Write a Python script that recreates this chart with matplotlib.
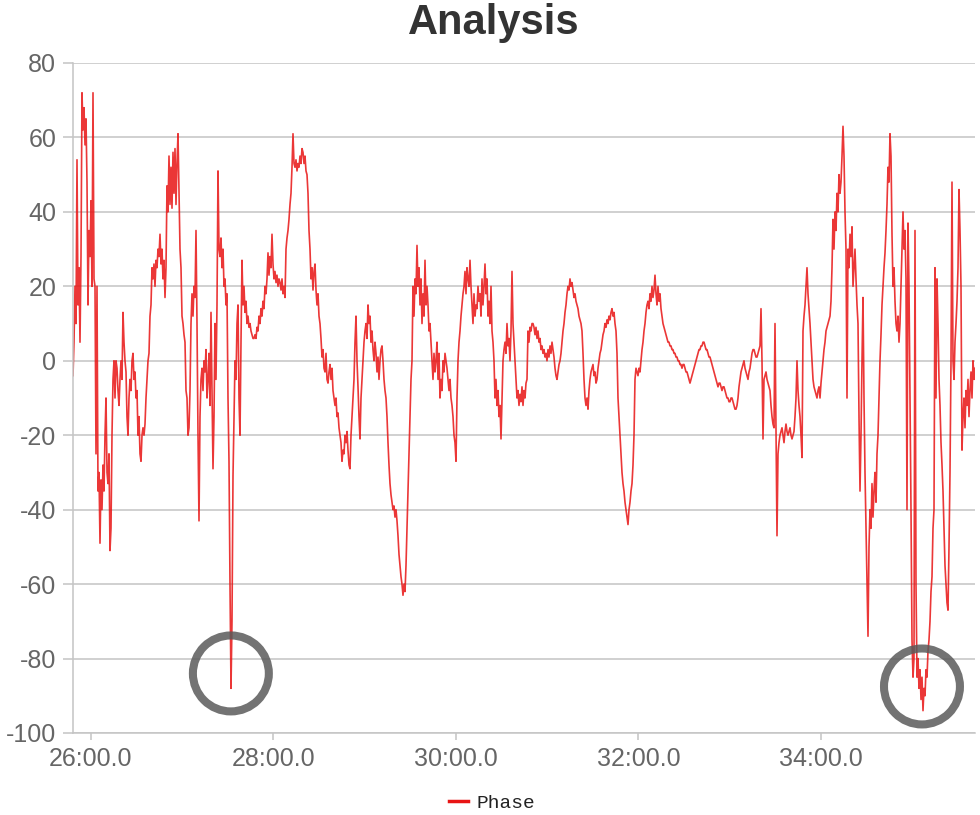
import matplotlib
matplotlib.use("Agg")
import matplotlib.pyplot as plt
import numpy as np
from matplotlib.ticker import FuncFormatter

plt.rcParams["font.family"] = ["Liberation Sans", "DejaVu Sans"]
plt.rcParams["axes.unicode_minus"] = False

# logger clock: first sample at 25:48.2, one sample every 0.6575 s
START_S = 25 * 60 + 48.2
SAMPLE_S = 0.6575

phase = [
    # 25:48 - 26:14
    -4, 5, 20, 10, 54, 15, 25, 5, 28, 72,
    62, 68, 58, 65, 48, 15, 35, 28, 43, 20,
    72, 22, 20, -25, 20, -35, -30, -49, -32, -40,
    -28, -35, -20, -10, -30, -33, -25, -51, -45, -20,
    # 26:14 - 26:39
    -5, 0, -10, 0, -2, -8, -12, -5, 0, -5,
    13, 5, 0, -3, -15, -20, -10, -5, -8, 0,
    2, -5, -3, -10, -8, -20, -15, -25, -27, -20,
    -18, -20, -17, -10, -5, 0, 2, 12,
    # 26:39 - 27:05
    15, 25, 22, 26, 20, 27, 25, 30, 28, 34,
    26, 30, 22, 27, 17, 25, 47, 40, 55, 42,
    52, 41, 56, 45, 57, 42, 53, 61, 45, 30,
    25, 12, 10, 7, 5, -8, -10, -20, -18, -8,
    # 27:05 - 27:38
    10, 18, 12, 20, 17, 35, 10, -20, -43, -15,
    -5, -2, -8, 0, -3, 3, -10, -5, 2, -12,
    13, -8, -29, -15, 10, -5, 15, 51, 30, 28,
    33, 25, 30, 20, 22, 15, 18, -10, -27, -60,
    -88, -70, -31, -15, 0, -5, 10, 15, -10, -20,
    # 27:38 - 28:44
    5, 27, 15, 20, 13, 16, 10, 12, 9, 10,
    8, 7, 6, 6, 7, 6, 9, 8, 12, 10,
    14, 12, 16, 14, 20, 18, 22, 29, 23, 28,
    25, 34, 26, 22, 24, 21, 23, 20, 22, 21,
    19, 22, 18, 20, 17, 30, 33, 35, 38, 42,
    45, 52, 61, 53, 52, 54, 51, 53, 52, 55,
    53, 57, 56, 53, 55, 51, 50, 45, 35, 30,
    22, 25, 19, 24, 26, 19, 15, 18, 12, 10,
    6, 1, 3, -2, -3, 2, -5, -6, -3, -1,
    -5, -2, -8, -10, -12, -10, -15, -14, -18, -20,
    # 28:44 - 29:30
    -22, -27, -24, -25, -20, -22, -19, -24, -28, -29,
    -20, -15, -10, -5, 5, 12, 0, -7, -15, -21,
    -10, -5, 0, 5, 8, 10, 6, 15, 10, 12,
    5, 8, 3, 0, 5, 2, -3, 1, -5, 0,
    3, 4, 0, -5, -8, -10, -15, -22, -28, -33,
    -36, -38, -40, -39, -42, -40, -43, -47, -52, -55,
    -58, -60, -63, -60, -62, -55, -45, -35, -25, -15,
    # 29:30 - 30:43
    -5, 0, 20, 12, 22, 18, 31, 20, 25, 15,
    22, 10, 18, 12, 27, 15, 20, 15, 8, 10,
    5, 0, -5, 2, -3, 0, 5, -5, 2, -10,
    -5, -8, 0, -3, 2, 0, -2, -5, -8, -5,
    -10, -12, -15, -20, -22, -27, -10, 0, 5, 8,
    12, 15, 18, 20, 24, 18, 25, 22, 20, 27,
    20, 15, 10, 18, 12, 15, 14, 20, 16, 18,
    12, 22, 15, 20, 26, 18, 22, 12, 16, 10,
    20, 8, 5, 0, -10, -5, -12, -8, -15, -12,
    -21, -10, 0, 3, 5, 2, 10, 4, 6, 0,
    8, 24, 10, 5, 0, -5, -10, -8, -12, -9,
    # 30:43 - 32:28
    -11, -7, -12, -8, -10, -6, -5, 8, 5, 9,
    8, 10, 10, 9, 7, 9, 6, 8, 5, 6,
    3, 4, 2, 3, 1, 2, 0, 3, 1, 4,
    2, 5, 3, 1, -2, -4, -5, -3, -1, 0,
    2, 5, 8, 10, 13, 15, 18, 20, 19, 22,
    20, 21, 19, 17, 18, 16, 15, 14, 12, 11,
    10, 8, 2, -5, -10, -12, -10, -13, -8, -5,
    -3, -2, -1, -4, -3, -6, -5, -2, 0, 2,
    3, 5, 7, 8, 10, 9, 11, 10, 12, 11,
    13, 14, 12, 13, 10, 8, 2, -10, -15, -20,
    -25, -30, -33, -35, -38, -40, -42, -44, -40, -38,
    -35, -33, -28, -20, -5, -2, -3, -4, -2, -3,
    0, 3, 5, 8, 10, 13, 15, 16, 14, 18,
    16, 20, 17, 19, 23, 18, 15, 20, 16, 18,
    14, 12, 10, 9, 8, 7, 6, 5, 5, 4,
    4, 3, 3, 2, 2, 1, 1, 0, 0, -1,
    # 32:28 - 34:07
    -1, -2, -1, -1, -2, -3, -3, -4, -5, -6,
    -5, -4, -3, -2, -1, 0, 1, 2, 3, 3,
    4, 4, 5, 5, 4, 3, 3, 2, 1, 1,
    0, -1, -2, -3, -4, -5, -6, -7, -6, -6,
    -7, -8, -7, -7, -8, -9, -10, -10, -11, -11,
    -10, -10, -11, -12, -13, -13, -12, -10, -7, -5,
    -3, -2, -1, 0, -2, -3, -4, -5, -3, -2,
    0, 2, 3, 3, 2, 1, 1, 2, 3, 4,
    14, 0, -21, -5, -4, -3, -5, -6, -7, -8,
    -12, -15, -17, -18, 10, -20, -47, -25, -22, -20,
    -19, -18, -20, -22, -19, -17, -19, -20, -19, -18,
    -20, -21, -20, -19, -15, -10, 0, -8, -12, -15,
    -20, -26, 8, 12, 15, 20, 25, 18, 14, 10,
    5, 0, -5, -7, -8, -9, -10, -8, -7, -10,
    -6, -3, 0, 3, 5, 8, 9, 10, 11, 12,
    # 34:07 - 35:41
    16, 25, 38, 30, 40, 35, 45, 40, 50, 45,
    48, 55, 63, 55, 40, 30, -10, 30, 25, 34,
    28, 36, 20, 25, 30, 22, 15, 10, -15, -35,
    -20, 0, 17, -10, -30, -45, -60, -74, -50, -40,
    -45, -33, -42, -35, -30, -38, -25, -20, -10, 0,
    7, 15, 20, 25, 29, 35, 42, 52, 48, 61,
    55, 34, 20, 25, 16, 10, 8, 12, 5, 10,
    20, 30, 40, 30, 35, 22, -40, 37, 20, -10,
    -40, -75, -85, -80, 35, -60, -85, -80, -88, -83,
    -91, -85, -94, -88, -90, -83, -85, -78, -75, -70,
    -62, -58, -45, -40, 25, -10, 22, 10, -5, -12,
    -22, -28, -35, -45, -55, -60, -65, -67, -50, -30,
    0, 48, 0, -5, 5, 10, 16, 25, 46, 35,
    20, -24, -15, -10, -18, -8, -12, -5, -15, -8,
    -3, -10, 0, -5, -2,
]

# the two minima that are ringed on the chart
marked_t = [27 * 60 + 32.0, 35 * 60 + 6.4]
marked_v = [-84, -87.5]

x_ticks = [26 * 60, 28 * 60, 30 * 60, 32 * 60, 34 * 60]
y_ticks = list(range(-100, 81, 20))


def mmss(s, pos=None):
    m = int(s // 60)
    return f"{m:02d}:{s - m * 60:04.1f}"


t = START_S + np.arange(len(phase)) * SAMPLE_S

fig = plt.figure(figsize=(9.8, 8.15), dpi=100)
ax = fig.add_axes([73 / 980, 82 / 815, 902 / 980, 670 / 815])

ax.plot(t, phase, color="#e81414", lw=1.2, alpha=0.85, label="Phase")
ax.scatter(marked_t, marked_v, s=2990, facecolors="none", edgecolors="#5a5a5a",
           linewidths=5.8, alpha=0.85, zorder=4)

ax.set_xlim(t[0], t[-1])
ax.set_ylim(-100, 80)
ax.set_xticks(x_ticks)
ax.set_yticks(y_ticks)
ax.xaxis.set_major_formatter(FuncFormatter(mmss))

ax.grid(axis="y", color="#c4c4c4", lw=1.1)
ax.set_axisbelow(True)
for side in ["top", "right"]:
    ax.spines[side].set_visible(False)
for side in ["left", "bottom"]:
    ax.spines[side].set_color("#c4c4c4")
    ax.spines[side].set_linewidth(1.1)
ax.tick_params(axis="y", length=7, width=1.1, color="#c4c4c4", labelsize=18,
               labelcolor="#666666", pad=5)
ax.tick_params(axis="x", length=5, width=1.1, color="#c4c4c4", labelsize=18,
               labelcolor="#666666", pad=5)

fig.text(494 / 980, 1 - 23 / 815, "Analysis", ha="center", va="center",
         fontsize=30, fontweight="bold", color="#333333")

leg = fig.legend(loc="center", bbox_to_anchor=(492 / 980, 1 - 803 / 815),
                 frameon=False, handlelength=1.0, handletextpad=0.4,
                 prop={"family": "Liberation Mono", "size": 14})
leg.get_texts()[0].set_color("#222222")
leg.get_lines()[0].set_linewidth(2.5)
leg.get_lines()[0].set_alpha(1)

fig.savefig("out.png", dpi=100)
